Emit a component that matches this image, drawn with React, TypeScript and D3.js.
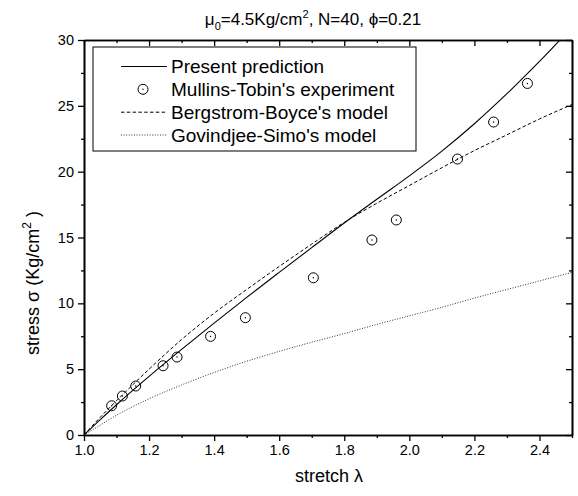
import React, { useEffect, useRef } from "react";
import * as d3 from "d3";

// ---- data ----
const expLambda = [1.085, 1.118, 1.159, 1.243, 1.286, 1.389, 1.496, 1.705, 1.885, 1.96, 2.148, 2.259, 2.363];
const expStress = [2.22, 2.96, 3.72, 5.26, 5.92, 7.49, 8.91, 11.94, 14.81, 16.33, 20.96, 23.77, 26.7];

const modelLambda = [1.0, 1.05, 1.1, 1.2, 1.3, 1.4, 1.5, 1.6, 1.7, 1.8, 1.9, 2.0, 2.1, 2.2, 2.3, 2.4, 2.5];
const presentStress = [0, 1.17, 2.3, 4.45, 6.5, 8.5, 10.45, 12.35, 14.23, 16.1, 17.9, 19.68, 21.56, 23.64, 25.92, 28.37, 30.97];
const bergstromStress = [0, 1.35, 2.6, 5.0, 7.25, 9.25, 11.05, 12.8, 14.5, 16.15, 17.6, 18.95, 20.3, 21.6, 22.8, 24.0, 25.1];
const govindjeeStress = [0, 0.75, 1.5, 2.75, 3.8, 4.75, 5.6, 6.35, 7.05, 7.7, 8.4, 9.05, 9.7, 10.4, 11.05, 11.7, 12.35];

const xMajorTicks = [1.0, 1.2, 1.4, 1.6, 1.8, 2.0, 2.2, 2.4];
const xMinorTicks = [1.1, 1.3, 1.5, 1.7, 1.9, 2.1, 2.3, 2.5];
const yMajorTicks = [0, 5, 10, 15, 20, 25, 30];
const yMinorTicks = [2.5, 7.5, 12.5, 17.5, 22.5, 27.5];

const legendLabels = [
  "Present prediction",
  "Mullins-Tobin's experiment",
  "Bergstrom-Boyce's model",
  "Govindjee-Simo's model",
];

const W = 578;
const H = 496;
const M = { left: 84, right: 572, top: 40, bottom: 435 };
const FONT = "'Liberation Sans', Arial, Helvetica, sans-serif";

export default function App() {
  const ref = useRef<SVGSVGElement | null>(null);

  useEffect(() => {
    const svg = d3.select(ref.current);
    svg.selectAll("*").remove();

    const x = d3.scaleLinear().domain([1.0, 2.5]).range([M.left, M.right]);
    const y = d3.scaleLinear().domain([0, 30]).range([M.bottom, M.top]);

    svg
      .append("defs")
      .append("clipPath")
      .attr("id", "plotclip")
      .append("rect")
      .attr("x", M.left)
      .attr("y", M.top)
      .attr("width", M.right - M.left)
      .attr("height", M.bottom - M.top);

    const fmt = d3.format(".1f");
    // bottom axis (outward ticks)
    const bottom = svg.append("g").attr("transform", `translate(0,${M.bottom})`);
    bottom.call(d3.axisBottom(x).tickValues(xMajorTicks).tickSize(6).tickSizeOuter(0).tickPadding(4).tickFormat((d: any) => fmt(d)));
    const bottomMinor = svg.append("g").attr("transform", `translate(0,${M.bottom})`);
    bottomMinor.call(d3.axisBottom(x).tickValues(xMinorTicks).tickSize(3).tickSizeOuter(0).tickFormat(() => ""));
    // top axis (inward ticks)
    const top = svg.append("g").attr("transform", `translate(0,${M.top})`);
    top.call(d3.axisTop(x).tickValues(xMajorTicks).tickSize(-6).tickSizeOuter(0).tickFormat(() => ""));
    const topMinor = svg.append("g").attr("transform", `translate(0,${M.top})`);
    topMinor.call(d3.axisTop(x).tickValues(xMinorTicks).tickSize(-3).tickSizeOuter(0).tickFormat(() => ""));
    // left axis (outward)
    const left = svg.append("g").attr("transform", `translate(${M.left},0)`);
    left.call(d3.axisLeft(y).tickValues(yMajorTicks).tickSize(6).tickSizeOuter(0).tickPadding(4).tickFormat((d: any) => String(d)));
    const leftMinor = svg.append("g").attr("transform", `translate(${M.left},0)`);
    leftMinor.call(d3.axisLeft(y).tickValues(yMinorTicks).tickSize(3).tickSizeOuter(0).tickFormat(() => ""));
    // right axis (inward)
    const right = svg.append("g").attr("transform", `translate(${M.right},0)`);
    right.call(d3.axisRight(y).tickValues(yMajorTicks).tickSize(-6).tickSizeOuter(0).tickFormat(() => ""));
    const rightMinor = svg.append("g").attr("transform", `translate(${M.right},0)`);
    rightMinor.call(d3.axisRight(y).tickValues(yMinorTicks).tickSize(-3).tickSizeOuter(0).tickFormat(() => ""));

    svg.selectAll(".domain").attr("stroke", "#000").attr("stroke-width", 1.6);
    svg.selectAll(".tick line").attr("stroke", "#000").attr("stroke-width", 1.3);
    svg.selectAll(".tick text").attr("fill", "#000").attr("font-size", 14.5).attr("font-family", FONT);

    const plot = svg.append("g").attr("clip-path", "url(#plotclip)");
    const line = d3
      .line<number>()
      .x((_, i) => x(modelLambda[i]))
      .y((d) => y(d))
      .curve(d3.curveMonotoneX);

    plot.append("path").attr("d", line(govindjeeStress)).attr("fill", "none").attr("stroke", "#333").attr("stroke-width", 1).attr("stroke-dasharray", "1,1.6");
    plot.append("path").attr("d", line(bergstromStress)).attr("fill", "none").attr("stroke", "#000").attr("stroke-width", 1).attr("stroke-dasharray", "3.5,2.3");
    plot.append("path").attr("d", line(presentStress)).attr("fill", "none").attr("stroke", "#000").attr("stroke-width", 1.1);

    const pts = plot.append("g");
    expLambda.forEach((l, i) => {
      pts.append("circle").attr("cx", x(l)).attr("cy", y(expStress[i])).attr("r", 5).attr("fill", "none").attr("stroke", "#000").attr("stroke-width", 1);
      pts.append("circle").attr("cx", x(l)).attr("cy", y(expStress[i])).attr("r", 0.7).attr("fill", "#000");
    });

    // legend
    const lg = svg.append("g");
    lg.append("rect").attr("x", 93).attr("y", 47).attr("width", 323).attr("height", 104).attr("fill", "#fff").attr("stroke", "#000").attr("stroke-width", 1);
    const rowY = [66.5, 89.3, 112.2, 135];
    const dashes = [null, null, "3.5,2.3", "1,1.6"];
    legendLabels.forEach((lab, i) => {
      const ry = rowY[i];
      if (i === 1) {
        lg.append("circle").attr("cx", 143).attr("cy", ry).attr("r", 5).attr("fill", "none").attr("stroke", "#000").attr("stroke-width", 1);
        lg.append("circle").attr("cx", 143).attr("cy", ry).attr("r", 0.7).attr("fill", "#000");
      } else {
        const p = lg.append("line").attr("x1", 121).attr("x2", 167).attr("y1", ry).attr("y2", ry).attr("stroke", i === 3 ? "#333" : "#000").attr("stroke-width", 1);
        if (dashes[i]) p.attr("stroke-dasharray", dashes[i] as string);
      }
      lg.append("text").attr("x", 171).attr("y", ry + 6.5).attr("font-size", 19).attr("font-family", FONT).attr("fill", "#000").text(lab);
    });

    // title
    const t = svg.append("text").attr("x", 313).attr("y", 25).attr("text-anchor", "middle").attr("font-size", 17).attr("font-family", FONT).attr("fill", "#000");
    t.append("tspan").text("μ");
    t.append("tspan").attr("dy", 5).attr("font-size", 11).text("0");
    t.append("tspan").attr("dy", -5).text("=4.5Kg/cm");
    t.append("tspan").attr("dy", -7).attr("font-size", 11).text("2");
    t.append("tspan").attr("dy", 7).text(", N=40, ϕ=0.21");

    // x label
    svg.append("text").attr("x", 329).attr("y", 482).attr("text-anchor", "middle").attr("font-size", 18).attr("font-family", FONT).attr("fill", "#000").text("stretch λ");

    // y label
    const yl = svg.append("text").attr("transform", `translate(39,283) rotate(-90)`).attr("text-anchor", "middle").attr("font-size", 18).attr("font-family", FONT).attr("fill", "#000");
    yl.append("tspan").text("stress σ (Kg/cm");
    yl.append("tspan").attr("dy", -8).attr("font-size", 12).text("2");
    yl.append("tspan").attr("dy", 8).text(" )");
  }, []);

  return (
    <svg
      ref={ref}
      width={W}
      height={H}
      style={{ position: "absolute", left: 0, top: 0, background: "#fff" }}
    />
  );
}
